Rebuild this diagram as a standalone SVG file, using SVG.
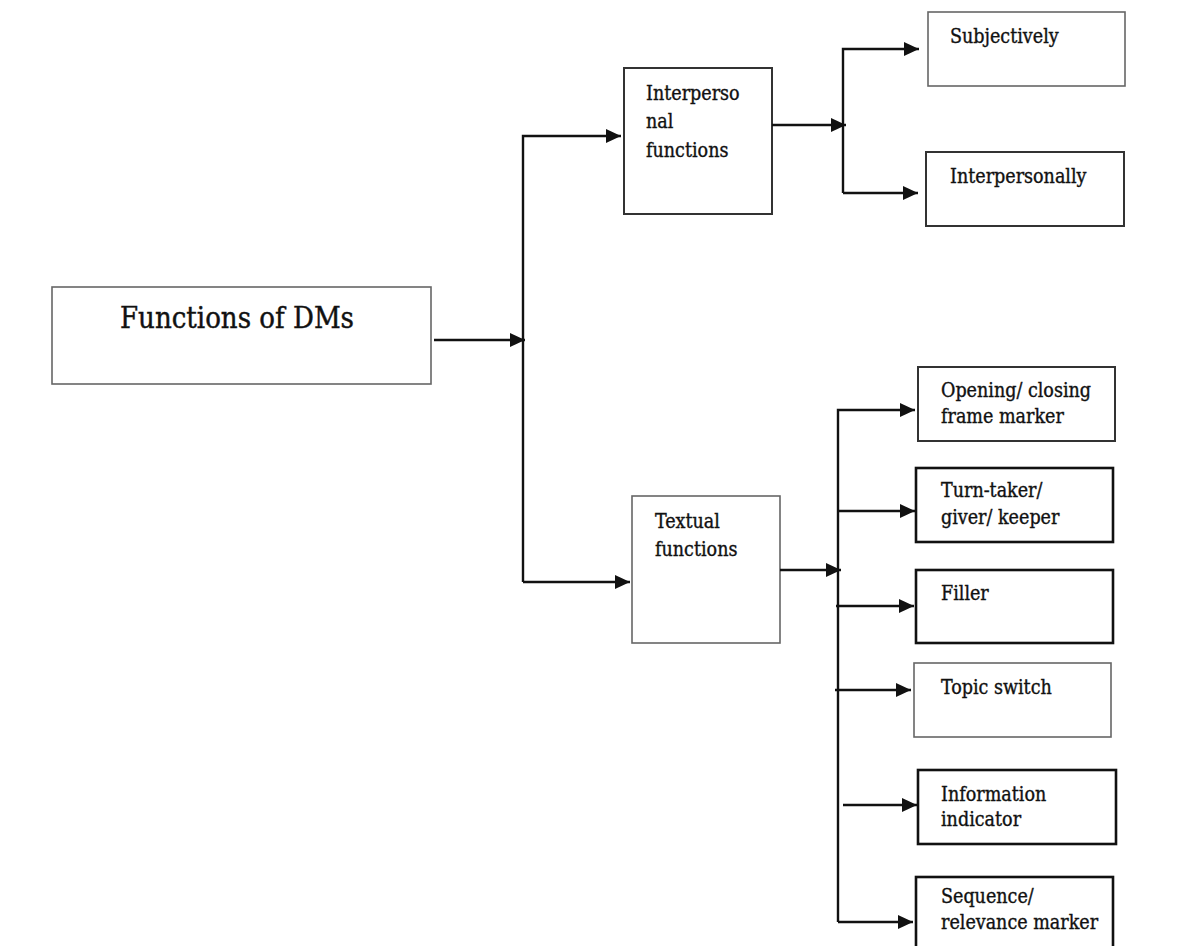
<svg xmlns="http://www.w3.org/2000/svg" width="1192" height="946" viewBox="0 0 1192 946">
<defs>
<marker id="ah" markerUnits="userSpaceOnUse" markerWidth="16" markerHeight="14" refX="15" refY="7" orient="auto">
<path d="M0,0 L15,7 L0,14 Z" fill="#111"/>
</marker>
<style>
.box{fill:#fff;stroke:#333;stroke-width:2}
.thin{stroke:#666;stroke-width:1.6}
.thick{stroke:#111;stroke-width:2.6}
.t{font-family:"DejaVu Serif Condensed","DejaVu Serif",serif;font-size:19.5px;fill:#111;stroke:#111;stroke-width:0.35}
.big{font-size:29px;stroke-width:0.4}
.c line,.c path{stroke:#111;stroke-width:2.4;fill:none}
</style>
</defs>
<rect width="1192" height="946" fill="#fff"/>
<g id="root"><rect class="box thin" x="52" y="287" width="379" height="97"/><text class="t big" x="120" y="328">Functions of DMs</text></g>
<g id="interpersonal"><rect class="box" x="624" y="68" width="148" height="146"/><text class="t" x="646" y="100">Interperso</text><text class="t" x="646" y="128">nal</text><text class="t" x="646" y="157">functions</text></g>
<g id="subjectively"><rect class="box thin" x="928" y="12" width="197" height="74"/><text class="t" x="950" y="43">Subjectively</text></g>
<g id="interpersonally"><rect class="box" x="926" y="152" width="198" height="74"/><text class="t" x="950" y="183">Interpersonally</text></g>
<g id="textual"><rect class="box thin" x="632" y="496" width="148" height="147"/><text class="t" x="655" y="528">Textual</text><text class="t" x="655" y="556">functions</text></g>
<g id="opening"><rect class="box" x="918" y="367" width="197" height="74"/><text class="t" x="941" y="397">Opening/ closing</text><text class="t" x="941" y="423">frame marker</text></g>
<g id="turntaker"><rect class="box thick" x="916" y="468" width="197" height="74"/><text class="t" x="941" y="497">Turn-taker/</text><text class="t" x="941" y="524">giver/ keeper</text></g>
<g id="filler"><rect class="box thick" x="916" y="570" width="197" height="73"/><text class="t" x="941" y="600">Filler</text></g>
<g id="topic"><rect class="box thin" x="914" y="663" width="197" height="74"/><text class="t" x="941" y="694">Topic switch</text></g>
<g id="information"><rect class="box thick" x="918" y="770" width="198" height="74"/><text class="t" x="941" y="801">Information</text><text class="t" x="941" y="826">indicator</text></g>
<g id="sequence"><rect class="box thick" x="916" y="877" width="197" height="80"/><text class="t" x="941" y="903">Sequence/</text><text class="t" x="941" y="929">relevance marker</text></g>
<g class="c" id="connectors">
<line x1="434" y1="340" x2="525" y2="340" marker-end="url(#ah)"/>
<path d="M523,582 L523,136 L621,136" marker-end="url(#ah)"/>
<line x1="523" y1="582" x2="630" y2="582" marker-end="url(#ah)"/>
<line x1="772" y1="125" x2="846" y2="125" marker-end="url(#ah)"/>
<path d="M843,193 L843,49 L919,49" marker-end="url(#ah)"/>
<line x1="843" y1="193" x2="918" y2="193" marker-end="url(#ah)"/>
<line x1="780" y1="570" x2="841" y2="570" marker-end="url(#ah)"/>
<path d="M838,922 L838,410 L915,410" marker-end="url(#ah)"/>
<line x1="838" y1="511" x2="915" y2="511" marker-end="url(#ah)"/>
<line x1="836" y1="606" x2="914" y2="606" marker-end="url(#ah)"/>
<line x1="835" y1="690" x2="911" y2="690" marker-end="url(#ah)"/>
<line x1="843" y1="805" x2="917" y2="805" marker-end="url(#ah)"/>
<line x1="838" y1="922" x2="913" y2="922" marker-end="url(#ah)"/>
</g>
</svg>
